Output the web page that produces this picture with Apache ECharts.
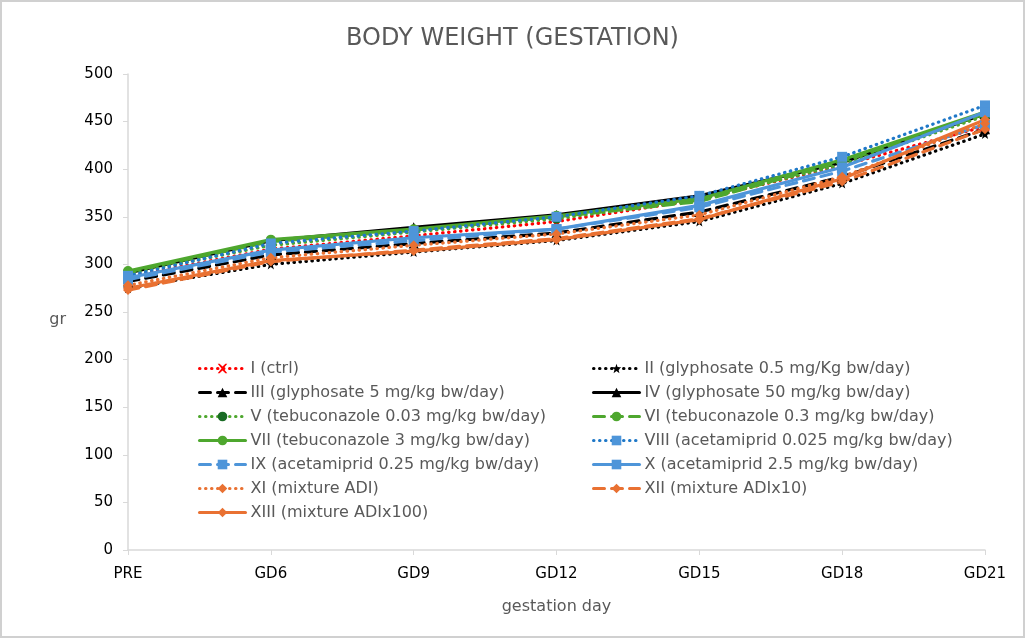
<!DOCTYPE html>
<html>
<head>
<meta charset="utf-8">
<script src="https://cdn.jsdelivr.net/npm/echarts@6/dist/echarts.min.js"></script>
<style>
  html, body { margin: 0; padding: 0; background: #fff; }
  #chart { width: 1021px; height: 634px; border: 2px solid #d0d0d0; }
</style>
</head>
<body>
<div id="chart"></div>
<script>
// ============ 数据 ============
const days = ['PRE', 'GD6', 'GD9', 'GD12', 'GD15', 'GD18', 'GD21'];
const yTicks = [0, 50, 100, 150, 200, 250, 300, 350, 400, 450, 500];

const grpI    = [287, 316, 330, 345, 368, 404, 445];
const grpII   = [275, 300, 313, 325, 345, 385, 437];
const grpIII  = [282, 310, 322, 333, 355, 392, 442];
const grpIV   = [291, 325, 339, 352, 372, 407, 458];
const grpV    = [290, 320, 334, 348, 368, 405, 456];
const grpVI   = [292, 324, 336, 350, 366, 408, 458];
const grpVII  = [293, 326, 337, 351, 369, 410, 460];
const grpVIII = [288, 322, 335, 350, 372, 413, 467];
const grpIX   = [284, 313, 325, 337, 360, 398, 447];
const grpX    = [286, 315, 328, 337, 362, 402, 460];
const grpXI   = [278, 307, 320, 332, 352, 392, 448];
const grpXII  = [273, 303, 315, 327, 348, 387, 442];
const grpXIII = [275, 304, 314, 326, 347, 390, 452];

const X_PATH = 'path://M0,0 L2,0 L5,3 L8,0 L10,0 L6,5 L10,10 L8,10 L5,7 L2,10 L0,10 L4,5 Z';
const STAR_PATH = 'path://M5,0 L6.2,3.6 L10,3.8 L7,6.1 L8.1,10 L5,7.7 L1.9,10 L3,6.1 L0,3.8 L3.8,3.6 Z';

const DOT = [0.5, 5.5];
const DASH = [11, 7];
const FONT = 'DejaVu Sans';

function mk(name, data, color, type, symbol, markColor) {
  return {
    name: name,
    type: 'line',
    data: data,
    symbol: symbol,
    symbolSize: 10,
    showSymbol: true,
    itemStyle: { color: markColor || color },
    lineStyle: { color: color, width: 3.2, type: type, cap: 'round' },
    emphasis: { disabled: true },
    z: 2,
  };
}

const series = [
  mk('I (ctrl)', grpI, '#ff0000', DOT, X_PATH),
  mk('II (glyphosate 0.5 mg/Kg bw/day)', grpII, '#000000', DOT, STAR_PATH),
  mk('III (glyphosate 5 mg/kg bw/day)', grpIII, '#000000', DASH, 'triangle'),
  mk('IV (glyphosate 50 mg/kg bw/day)', grpIV, '#000000', 'solid', 'triangle'),
  mk('V (tebuconazole 0.03 mg/kg bw/day)', grpV, '#4ea72e', DOT, 'circle', '#196b24'),
  mk('VI (tebuconazole 0.3 mg/kg bw/day)', grpVI, '#4ea72e', DASH, 'circle'),
  mk('VII (tebuconazole 3 mg/kg bw/day)', grpVII, '#4ea72e', 'solid', 'circle'),
  mk('VIII (acetamiprid 0.025 mg/kg bw/day)', grpVIII, '#1f78c8', DOT, 'rect', '#4e95d9'),
  mk('IX (acetamiprid 0.25 mg/kg bw/day)', grpIX, '#4e95d9', DASH, 'rect'),
  mk('X (acetamiprid 2.5 mg/kg bw/day)', grpX, '#4e95d9', 'solid', 'rect'),
  mk('XI (mixture ADI)', grpXI, '#e97132', DOT, 'diamond'),
  mk('XII (mixture ADIx10)', grpXII, '#e97132', DASH, 'diamond'),
  mk('XIII (mixture ADIx100)', grpXIII, '#e97132', 'solid', 'diamond'),
];

const leftNames = series.filter((s, i) => i % 2 === 0).map(s => s.name);
const rightNames = series.filter((s, i) => i % 2 === 1).map(s => s.name);

const legendBase = {
  orient: 'vertical',
  top: 352,
  itemWidth: 46,
  itemHeight: 12,
  itemGap: 5,
  selectedMode: false,
  lineStyle: { width: 3 },
  textStyle: { fontFamily: FONT, fontSize: 16, color: '#595959', lineHeight: 19 },
};

const chart = echarts.init(document.getElementById('chart'));
chart.setOption({
  animation: false,
  title: {
    text: 'BODY WEIGHT (GESTATION)',
    left: 'center',
    top: 20,
    textStyle: { fontFamily: FONT, fontSize: 24, fontWeight: 'normal', color: '#595959' },
  },
  legend: [
    Object.assign({}, legendBase, { left: 191, data: leftNames }),
    Object.assign({}, legendBase, { left: 585, data: rightNames }),
  ],
  grid: { left: 126, right: 38, top: 72, bottom: 86 },
  xAxis: {
    type: 'category',
    data: days,
    boundaryGap: false,
    name: 'gestation day',
    nameLocation: 'middle',
    nameGap: 49,
    nameTextStyle: { fontFamily: FONT, fontSize: 16, color: '#595959' },
    axisLine: { lineStyle: { color: '#d9d9d9', width: 1.5 } },
    axisTick: { show: true, alignWithLabel: true, length: 5, lineStyle: { color: '#d9d9d9' } },
    axisLabel: { fontFamily: FONT, fontSize: 15, color: '#000', margin: 17 },
    splitLine: { show: false },
  },
  yAxis: {
    type: 'value',
    min: yTicks[0],
    max: yTicks[yTicks.length - 1],
    interval: 50,
    name: 'gr',
    nameLocation: 'middle',
    nameRotate: 0,
    nameGap: 62,
    nameTextStyle: { fontFamily: FONT, fontSize: 16, color: '#595959', verticalAlign: 'top', lineHeight: 16 },
    axisLine: { show: true, lineStyle: { color: '#d9d9d9', width: 1.5 } },
    axisTick: { show: true, length: 5, lineStyle: { color: '#d9d9d9' } },
    axisLabel: { fontFamily: FONT, fontSize: 15, color: '#000', margin: 15 },
    splitLine: { show: false },
  },
  series: series,
});
</script>
</body>
</html>
